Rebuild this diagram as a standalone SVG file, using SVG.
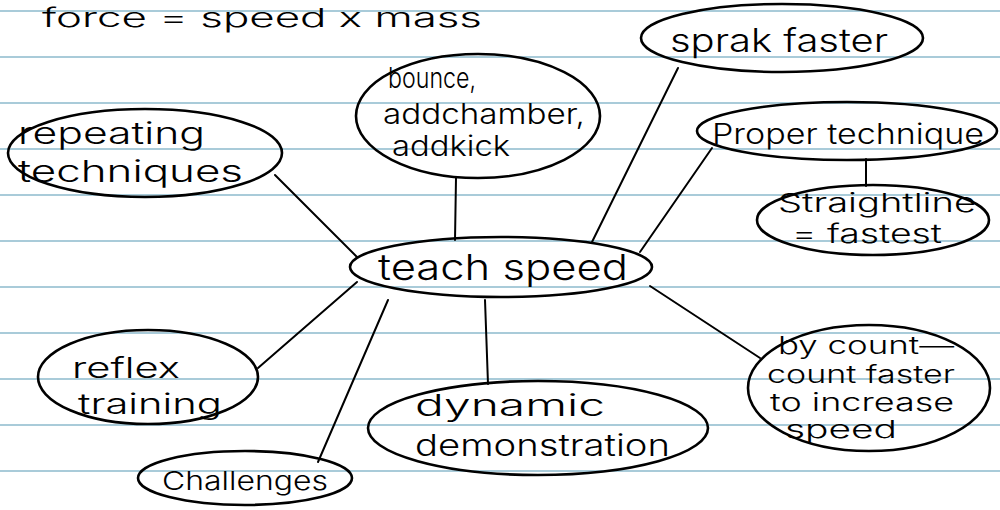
<svg xmlns="http://www.w3.org/2000/svg" width="1000" height="510" viewBox="0 0 1000 510">
<style>
.rule{stroke:#a9cbd9;stroke-width:2}
.node{fill:none;stroke:#000;stroke-width:2.6}
.edge{stroke:#000;stroke-width:2;fill:none;stroke-linecap:round}
text{font-family:Inter,"Liberation Sans","DejaVu Sans",sans-serif;fill:#000;font-weight:300}
</style>
<rect width="1000" height="510" fill="#fff"/>
<g id="paper">
<line class="rule" x1="0" y1="11" x2="1000" y2="11"/>
<line class="rule" x1="0" y1="57" x2="1000" y2="57"/>
<line class="rule" x1="0" y1="103" x2="1000" y2="103"/>
<line class="rule" x1="0" y1="149" x2="1000" y2="149"/>
<line class="rule" x1="0" y1="195" x2="1000" y2="195"/>
<line class="rule" x1="0" y1="241" x2="1000" y2="241"/>
<line class="rule" x1="0" y1="287" x2="1000" y2="287"/>
<line class="rule" x1="0" y1="333" x2="1000" y2="333"/>
<line class="rule" x1="0" y1="379" x2="1000" y2="379"/>
<line class="rule" x1="0" y1="425" x2="1000" y2="425"/>
<line class="rule" x1="0" y1="471" x2="1000" y2="471"/>
</g>
<g id="title">
<text x="42" y="27" font-size="26" textLength="440" lengthAdjust="spacingAndGlyphs">force = speed x mass</text>
</g>
<g id="connectors">
<line class="edge" x1="275" y1="175" x2="357" y2="257"/>
<line class="edge" x1="456" y1="178" x2="455" y2="240"/>
<line class="edge" x1="678" y1="68" x2="592" y2="242"/>
<line class="edge" x1="712" y1="148" x2="640" y2="252"/>
<line class="edge" x1="866" y1="159" x2="866" y2="186"/>
<line class="edge" x1="357" y1="282" x2="258" y2="368"/>
<line class="edge" x1="388" y1="300" x2="318" y2="462"/>
<line class="edge" x1="485" y1="300" x2="488" y2="384"/>
<line class="edge" x1="650" y1="286" x2="760" y2="358"/>
</g>
<g id="n-sprak">
<ellipse class="node" cx="782" cy="38" rx="141" ry="34"/>
<text x="670" y="52" font-size="32" textLength="218" lengthAdjust="spacingAndGlyphs">sprak faster</text>
</g>
<g id="n-bounce">
<ellipse class="node" cx="478" cy="116" rx="122" ry="62"/>
<text x="388" y="88" font-size="28" textLength="88" lengthAdjust="spacingAndGlyphs">bounce,</text>
<text x="383" y="124" font-size="28" textLength="202" lengthAdjust="spacingAndGlyphs">addchamber,</text>
<text x="392" y="156" font-size="28" textLength="118" lengthAdjust="spacingAndGlyphs">addkick</text>
</g>
<g id="n-repeating">
<ellipse class="node" cx="145" cy="153" rx="137" ry="44"/>
<text x="18" y="144" font-size="30" textLength="187" lengthAdjust="spacingAndGlyphs">repeating</text>
<text x="18" y="182" font-size="30" textLength="225" lengthAdjust="spacingAndGlyphs">techniques</text>
</g>
<g id="n-proper">
<ellipse class="node" cx="847" cy="131" rx="150" ry="29"/>
<text x="712" y="144" font-size="28" textLength="272" lengthAdjust="spacingAndGlyphs">Proper technique</text>
</g>
<g id="n-straight">
<ellipse class="node" cx="873" cy="220" rx="116" ry="35"/>
<text x="778" y="212" font-size="26" textLength="198" lengthAdjust="spacingAndGlyphs">Straightline</text>
<text x="792" y="243" font-size="26" textLength="150" lengthAdjust="spacingAndGlyphs">= fastest</text>
</g>
<g id="n-teach">
<ellipse class="node" cx="501" cy="267" rx="151" ry="30"/>
<text x="378" y="280" font-size="36" textLength="250" lengthAdjust="spacingAndGlyphs">teach speed</text>
</g>
<g id="n-reflex">
<ellipse class="node" cx="148" cy="377" rx="110" ry="47"/>
<text x="72" y="378" font-size="28" textLength="108" lengthAdjust="spacingAndGlyphs">reflex</text>
<text x="78" y="414" font-size="28" textLength="144" lengthAdjust="spacingAndGlyphs">training</text>
</g>
<g id="n-challenges">
<ellipse class="node" cx="245" cy="478" rx="107" ry="27"/>
<text x="162" y="490" font-size="26" textLength="166" lengthAdjust="spacingAndGlyphs">Challenges</text>
</g>
<g id="n-dynamic">
<ellipse class="node" cx="538" cy="428" rx="170" ry="47"/>
<text x="415" y="416" font-size="30" textLength="190" lengthAdjust="spacingAndGlyphs">dynamic</text>
<text x="415" y="456" font-size="30" textLength="255" lengthAdjust="spacingAndGlyphs">demonstration</text>
</g>
<g id="n-bycount">
<ellipse class="node" cx="869" cy="388" rx="121" ry="63"/>
<text x="778" y="354" font-size="24" textLength="176" lengthAdjust="spacingAndGlyphs">by count—</text>
<text x="767" y="383" font-size="24" textLength="188" lengthAdjust="spacingAndGlyphs">count faster</text>
<text x="770" y="411" font-size="24" textLength="184" lengthAdjust="spacingAndGlyphs">to increase</text>
<text x="785" y="438" font-size="24" textLength="112" lengthAdjust="spacingAndGlyphs">speed</text>
</g>
</svg>
